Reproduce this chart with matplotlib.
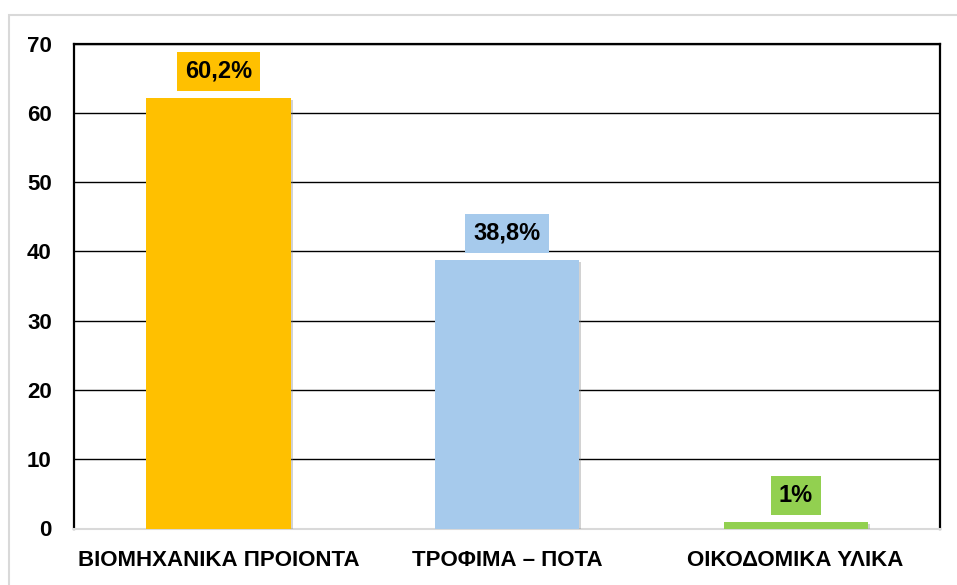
import matplotlib
matplotlib.use("Agg")
import matplotlib.pyplot as plt
import matplotlib.patheffects as pe
from matplotlib.patches import Rectangle

# data
categories = ['ΒΙΟΜΗΧΑΝΙΚΑ ΠΡΟΙΟΝΤΑ', 'ΤΡΟΦΙΜΑ – ΠΟΤΑ', 'ΟΙΚΟΔΟΜΙΚΑ ΥΛΙΚΑ']
values = [62.2, 38.8, 1.0]
labels = ['60,2%', '38,8%', '1%']
colors = ['#FFC000', '#A6CAEC', '#92D050']
yticks = [0, 10, 20, 30, 40, 50, 60, 70]

plt.rcParams['font.family'] = ['Liberation Sans', 'DejaVu Sans']
plt.rcParams['font.weight'] = 'bold'

W, H = 957, 585
fig = plt.figure(figsize=(W / 100, H / 100), dpi=100)
fig.patch.set_facecolor('white')

# light grey chart-area border
fig.add_artist(Rectangle((9 / W, -0.1), 1.2, 1 - 15 / H + 0.1, transform=fig.transFigure,
                         fill=False, edgecolor='#D9D9D9', lw=1.5))

ax = fig.add_axes([74 / W, (H - 528.5) / H, (940 - 74) / W, (528.5 - 43.7) / H])
x = range(len(categories))
bars = ax.bar(x, values, width=0.5, color=colors, zorder=3)
for b in bars:
    b.set_path_effects([pe.SimplePatchShadow(offset=(1.5, -1.5), shadow_rgbFace='#808080', alpha=0.35),
                        pe.Normal()])

for i in x:
    ax.annotate(labels[i], (i, values[i]), xytext=(0, 19), textcoords='offset points',
                ha='center', va='center', fontsize=17, fontweight='bold', color='black',
                bbox=dict(boxstyle='square,pad=0.34', fc=colors[i], ec='none'), zorder=4)

ax.set_xlim(-0.5, 2.5)
ax.set_ylim(0, 70)
ax.set_yticks(yticks)
ax.set_xticks(list(x))
ax.set_xticklabels(categories)
ax.tick_params(axis='both', length=0, labelsize=16)
ax.tick_params(axis='y', pad=16)
ax.tick_params(axis='x', pad=15.5)
ax.yaxis.grid(True, color='black', lw=1.0, zorder=0)
ax.set_axisbelow(True)

for s in ['top', 'left', 'right']:
    ax.spines[s].set_color('black')
    ax.spines[s].set_linewidth(1.6)
ax.spines['bottom'].set_color('#D9D9D9')
ax.spines['bottom'].set_linewidth(1.5)

fig.savefig('out.png', dpi=100, facecolor='white')
